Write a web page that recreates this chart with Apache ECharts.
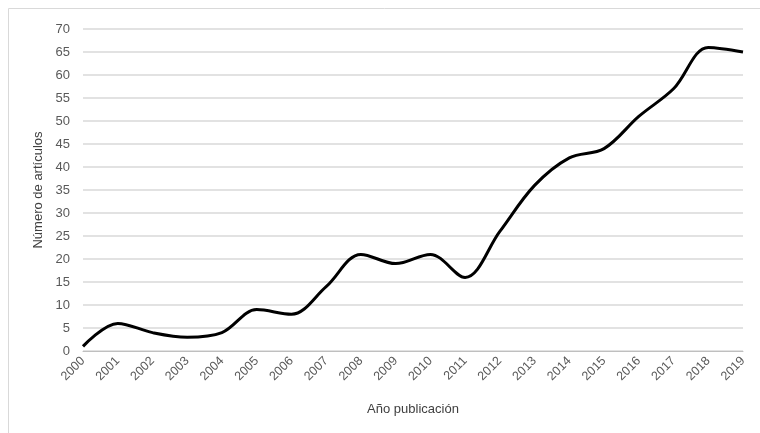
<!DOCTYPE html>
<html><head><meta charset="utf-8">
<script src="https://cdn.jsdelivr.net/npm/echarts@6/dist/echarts.min.js"></script>
<style>html,body{margin:0;padding:0;background:#fff}#c{width:760px;height:433px}</style>
</head><body><div id="c"></div>
<script>
const years = ['2000','2001','2002','2003','2004','2005','2006','2007','2008','2009','2010','2011','2012','2013','2014','2015','2016','2017','2018','2019'];
const articles = [1,6,4,3,4,9,8,14,21,19,21,16,26,36,42,44,51,57,66,65];
const chart = echarts.init(document.getElementById('c'));
const font = '"Liberation Sans", Arial, sans-serif';
chart.setOption({
  animation:false,
  textStyle:{fontFamily:font},
  graphic:[{type:'rect',shape:{x:8.5,y:8.5,width:800,height:500},style:{fill:'none',stroke:'#d9d9d9',lineWidth:1}}],
  grid:{left:83,right:17,top:29,bottom:82},
  xAxis:{type:'category',data:years,boundaryGap:false,
    name:'Año publicación',nameLocation:'middle',nameGap:52,
    nameTextStyle:{color:'#404040',fontSize:13,fontFamily:font},
    axisLine:{lineStyle:{color:'#bfbfbf',width:1}},axisTick:{show:false},
    axisLabel:{rotate:45,color:'#595959',fontSize:12.5,fontFamily:font,margin:8,interval:0}},
  yAxis:{type:'value',min:0,max:70,interval:5,
    name:'Número de artículos',nameLocation:'middle',nameGap:36,
    nameTextStyle:{color:'#404040',fontSize:13,fontFamily:font},
    axisLine:{show:false},axisTick:{show:false},
    axisLabel:{color:'#595959',fontSize:13,fontFamily:font,margin:13},
    splitLine:{lineStyle:{color:'#d9d9d9',width:1.5}}},
  series:[{type:'line',data:articles,smooth:0.35,showSymbol:false,
    lineStyle:{color:'#000',width:3}}]
});
</script></body></html>
